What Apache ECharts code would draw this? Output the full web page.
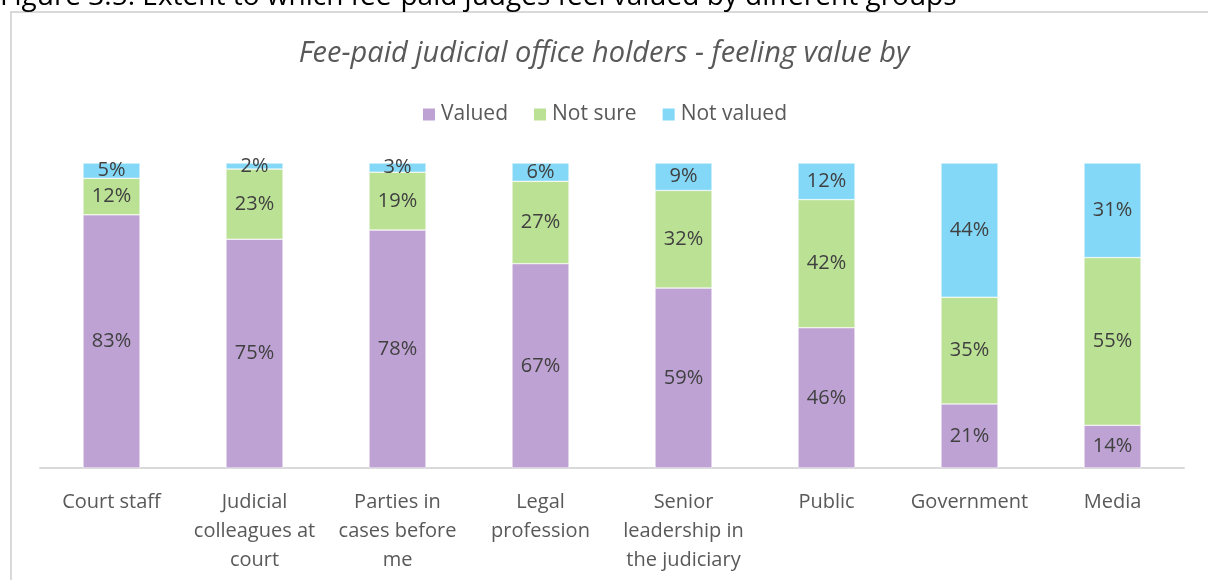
<!DOCTYPE html>
<html>
<head>
<meta charset="utf-8">
<script src="https://cdn.jsdelivr.net/npm/echarts@6/dist/echarts.min.js"></script>
<style>
  html, body { margin: 0; padding: 0; background: #fff; }
  #chart { width: 1208px; height: 580px; }
</style>
</head>
<body>
<div id="chart"></div>
<script>
const categories = ['Court staff', 'Judicial\ncolleagues at\ncourt', 'Parties in\ncases before\nme', 'Legal\nprofession',
  'Senior\nleadership in\nthe judiciary', 'Public', 'Government', 'Media']
const valued = [83, 75, 78, 67, 59, 46, 21, 14]
const notSure = [12, 23, 19, 27, 32, 42, 35, 55]
const notValued = [5, 2, 3, 6, 9, 12, 44, 31]

const font = '"Open Sans", "Noto Sans", sans-serif'

const makeSeries = (name, data, color) => ({
  name: name,
  type: 'bar',
  stack: 'total',
  data: data,
  barWidth: 57,
  itemStyle: { color: color, borderColor: '#fff', borderWidth: 0.5 },
  label: {
    show: true,
    position: 'inside',
    formatter: '{c}%',
    color: '#404040',
    fontSize: 20,
    fontFamily: font,
  },
})

const myChart = echarts.init(document.getElementById('chart'))

myChart.setOption({
  animation: false,
  title: {
    text: 'Fee-paid judicial office holders - feeling value by',
    left: 'center',
    top: 34,
    textStyle: {
      color: '#595959',
      fontStyle: 'italic',
      fontWeight: 'normal',
      fontSize: 29,
      fontFamily: font,
    },
  },
  legend: {
    top: 99,
    left: 'center',
    itemWidth: 14,
    itemHeight: 14,
    itemGap: 24,
    icon: 'rect',
    textStyle: { color: '#595959', fontSize: 21, fontFamily: font },
  },
  graphic: [
    {   // 外框
      type: 'rect',
      shape: { x: 11, y: 12, width: 1300, height: 700 },
      style: { fill: 'none', stroke: '#d9d9d9', lineWidth: 2 },
      silent: true,
    },
    {   // 被截掉的图注
      type: 'text',
      left: 0,
      top: -17,
      style: {
        text: 'Figure 3.5: Extent to which fee-paid judges feel valued by different groups',
        fill: '#000',
        fontSize: 28,
        fontFamily: font,
      },
    },
  ],
  grid: { left: 40, right: 24, top: 163, bottom: 112 },
  xAxis: {
    type: 'category',
    data: categories,
    axisLine: { lineStyle: { color: '#d9d9d9', width: 2 } },
    axisTick: { show: false },
    axisLabel: {
      color: '#595959',
      fontSize: 20,
      fontFamily: font,
      lineHeight: 29,
      margin: 20,
      interval: 0,
    },
  },
  yAxis: {
    type: 'value',
    min: 0,
    max: 100,
    show: false,
  },
  series: [
    makeSeries('Valued', valued, '#bea2d4'),
    makeSeries('Not sure', notSure, '#bbe195'),
    makeSeries('Not valued', notValued, '#83d8f7'),
  ],
})
</script>
</body>
</html>
